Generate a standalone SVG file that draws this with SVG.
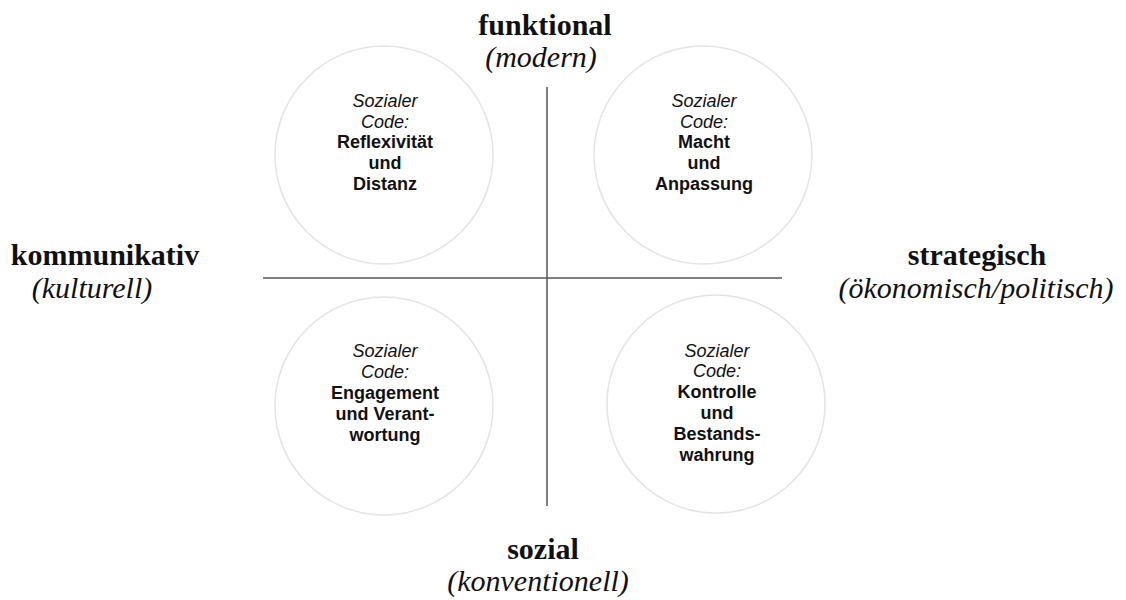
<svg xmlns="http://www.w3.org/2000/svg" width="1126" height="600" viewBox="0 0 1126 600">
<style>
.axis{font-family:"Liberation Serif","Times New Roman",serif;font-size:30px;fill:#111;text-anchor:middle}
.b{font-weight:bold}
.i{font-style:italic}
.c{fill:none;stroke:#e4e4e4;stroke-width:1.5}
.t{font-family:"Liberation Sans",Arial,sans-serif;font-size:18px;fill:#111;text-anchor:middle;font-weight:bold}
.ti{font-style:italic;font-weight:normal}
.ln{stroke:#555;stroke-width:1.5}
</style>
<rect width="1126" height="600" fill="#fff"/>
<g id="connectors">
<line class="ln" x1="263" y1="278" x2="782" y2="278"/>
<line class="ln" x1="547" y1="87" x2="547" y2="506"/>
</g>
<g id="axis-top">
<text class="axis b" x="545" y="35">funktional</text>
<text class="axis i" x="541" y="67">(modern)</text>
</g>
<g id="axis-left">
<text class="axis b" x="105" y="265">kommunikativ</text>
<text class="axis i" x="92" y="298">(kulturell)</text>
</g>
<g id="axis-right">
<text class="axis b" x="977" y="265">strategisch</text>
<text class="axis i" x="976" y="298">(ökonomisch/politisch)</text>
</g>
<g id="axis-bottom">
<text class="axis b" x="543" y="559">sozial</text>
<text class="axis i" x="538" y="591">(konventionell)</text>
</g>
<g id="node-tl">
<circle class="c" cx="384" cy="155" r="109"/>
<text class="t" x="385"><tspan class="ti" x="385" y="107">Sozialer</tspan><tspan class="ti" x="385" y="128">Code:</tspan><tspan x="385" y="148">Reflexivität</tspan><tspan x="385" y="169">und</tspan><tspan x="385" y="190">Distanz</tspan></text>
</g>
<g id="node-tr">
<circle class="c" cx="703" cy="155" r="109"/>
<text class="t" x="704"><tspan class="ti" x="704" y="107">Sozialer</tspan><tspan class="ti" x="704" y="128">Code:</tspan><tspan x="704" y="148">Macht</tspan><tspan x="704" y="169">und</tspan><tspan x="704" y="190">Anpassung</tspan></text>
</g>
<g id="node-bl">
<circle class="c" cx="384" cy="406" r="109"/>
<text class="t" x="385"><tspan class="ti" x="385" y="357">Sozialer</tspan><tspan class="ti" x="385" y="378">Code:</tspan><tspan x="385" y="399">Engagement</tspan><tspan x="385" y="420">und Verant-</tspan><tspan x="385" y="441">wortung</tspan></text>
</g>
<g id="node-br">
<circle class="c" cx="716" cy="404" r="109"/>
<text class="t" x="717"><tspan class="ti" x="717" y="357">Sozialer</tspan><tspan class="ti" x="717" y="377">Code:</tspan><tspan x="717" y="398">Kontrolle</tspan><tspan x="717" y="419">und</tspan><tspan x="717" y="440">Bestands-</tspan><tspan x="717" y="461">wahrung</tspan></text>
</g>
</svg>
